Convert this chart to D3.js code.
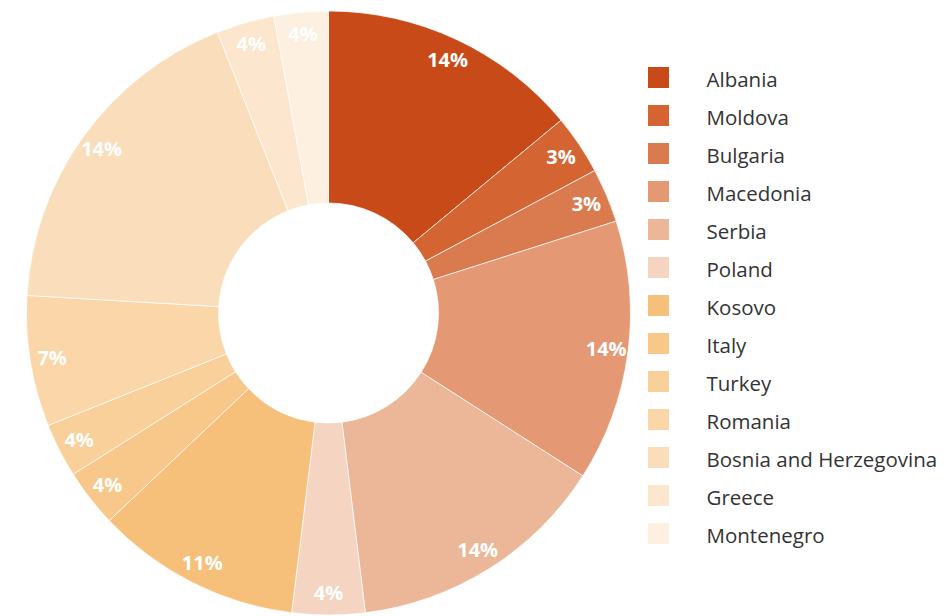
<!DOCTYPE html>
<html><head><meta charset="utf-8">
<script src="https://cdn.jsdelivr.net/npm/d3@7"></script>
<style>body{margin:0;background:#fff;}svg{display:block;}</style>
</head><body>
<script>
const categories = ["Albania","Moldova","Bulgaria","Macedonia","Serbia","Poland","Kosovo","Italy","Turkey","Romania","Bosnia and Herzegovina","Greece","Montenegro"];
const values = [14.0, 3.2, 2.9, 14.0, 14.0, 3.9, 11.0, 3.1, 2.9, 7.0, 18.1, 3.1, 2.9];
const labels = ["14%","3%","3%","14%","14%","4%","11%","4%","4%","7%","14%","4%","4%"];
const colors = ["#C94A19","#D46533","#DA7A4F","#E49874","#ECB698","#F5D4C2","#F7C07A","#F8C88A","#F9CF9A","#FAD6A9","#FADEBB","#FCE6CD","#FDF0E1"];

const W = 945, H = 616;
const cx = 328.5, cy = 313, R = 302, r0 = 110;
const svg = d3.select("body").append("svg").attr("width", W).attr("height", H);
const g = svg.append("g").attr("transform", `translate(${cx},${cy})`);

const pie = d3.pie().sort(null).value(d => d.v);
const data = pie(categories.map((c,i) => ({c, v: values[i], l: labels[i]})));
const color = d3.scaleOrdinal().domain(categories).range(colors);
const arc = d3.arc().innerRadius(r0).outerRadius(R);
const labelArc = d3.arc().innerRadius(280).outerRadius(280);

g.selectAll("path").data(data).join("path")
  .attr("d", arc)
  .attr("fill", d => color(d.data.c))
  .attr("stroke", "#fff").attr("stroke-width", 0.7);

g.selectAll("text").data(data).join("text")
  .attr("transform", d => `translate(${labelArc.centroid(d)})`)
  .attr("text-anchor", "middle").attr("dy", 7)
  .attr("fill", "#fff").attr("font-family", "'Open Sans', sans-serif")
  .attr("font-weight", "bold").attr("font-size", 20)
  .text(d => d.data.l);

const lg = svg.append("g").attr("transform", "translate(648,67)");
const row = lg.selectAll("g").data(categories).join("g")
  .attr("transform", (d,i) => `translate(0,${i*38})`);
row.append("rect").attr("width", 21).attr("height", 21).attr("fill", d => color(d));
row.append("text").attr("x", 58.5).attr("y", 20.3)
  .attr("font-family", "'Open Sans', sans-serif").attr("font-size", 20.5).attr("fill", "#333333")
  .text(d => d);
</script>
</body></html>
